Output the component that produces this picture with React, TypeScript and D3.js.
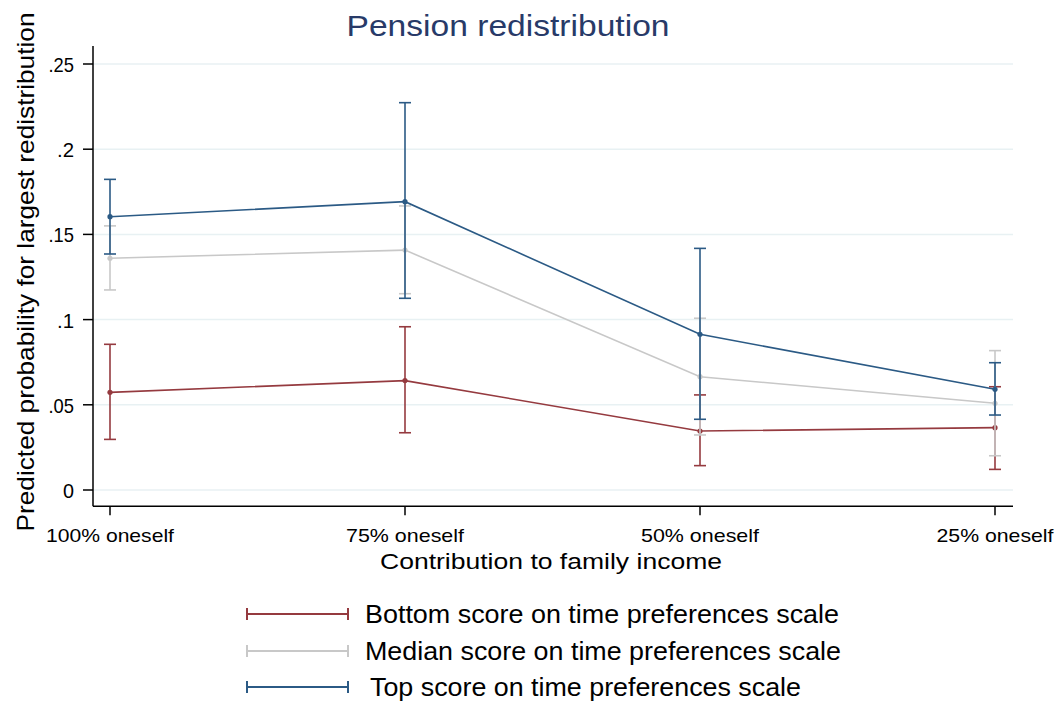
import React from "react";
import * as d3 from "d3";

const categories = ["100% oneself", "75% oneself", "50% oneself", "25% oneself"];
const yTicks = [0, 0.05, 0.1, 0.15, 0.2, 0.25];
const yTickLabels = ["0", ".05", ".1", ".15", ".2", ".25"];

const bottomEst = [0.0573, 0.0642, 0.0346, 0.0366];
const bottomLo = [0.0297, 0.0336, 0.0143, 0.0121];
const bottomHi = [0.0855, 0.0958, 0.0558, 0.0606];

const medianEst = [0.136, 0.1408, 0.0665, 0.0509];
const medianLo = [0.1174, 0.1152, 0.0323, 0.0201];
const medianHi = [0.155, 0.1667, 0.1008, 0.0818];

const topEst = [0.1604, 0.1692, 0.0914, 0.0591];
const topLo = [0.1385, 0.1125, 0.0415, 0.044];
const topHi = [0.1823, 0.2273, 0.1418, 0.0747];

const seriesNames = [
  "Bottom score on time preferences scale",
  "Median score on time preferences scale",
  "Top score on time preferences scale",
];

const colors = ["#953a3f", "#c8c8c8", "#2b5a85"];

export default function App() {
  const W = 1057, H = 704;
  const x = d3.scalePoint<string>().domain(categories).range([110, 995]);
  const y = d3.scaleLinear().domain([0, 0.25]).range([490, 64]);
  const plotLeft = 93, plotRight = 1013;
  const axisBottom = y(-0.0095);
  const axisTop = y(0.2605);
  const font = "'Liberation Sans', Arial, sans-serif";

  const series = [
    { est: bottomEst, lo: bottomLo, hi: bottomHi },
    { est: medianEst, lo: medianLo, hi: medianHi },
    { est: topEst, lo: topLo, hi: topHi },
  ];
  const line = d3
    .line<number>()
    .x((_, i) => x(categories[i]) as number)
    .y((d) => y(d));
  const capW = 6;
  const tickLabelW = [128, 118, 118, 117];
  const legendW = [474, 476, 431];
  const legendX = [365, 365, 370];
  const legendY = [614, 651, 687];

  return (
    <svg width={W} height={H} style={{ display: "block", position: "absolute", left: 0, top: 0, background: "#fff" }}>
      <rect x={0} y={0} width={W} height={H} fill="#fff" />
      {yTicks.map((t, i) => (
        <line key={"g" + i} x1={plotLeft} x2={plotRight} y1={y(t)} y2={y(t)} stroke="#e8f1f3" strokeWidth={1.5} />
      ))}
      {series.map((s, si) => (
        <g key={"s" + si} stroke={colors[si]} fill="none">
          {s.est.map((_, i) => {
            const cx = x(categories[i]) as number;
            return (
              <g key={i} strokeWidth={1.6}>
                <line x1={cx} x2={cx} y1={y(s.lo[i])} y2={y(s.hi[i])} />
                <line x1={cx - capW} x2={cx + capW} y1={y(s.lo[i])} y2={y(s.lo[i])} />
                <line x1={cx - capW} x2={cx + capW} y1={y(s.hi[i])} y2={y(s.hi[i])} />
              </g>
            );
          })}
          <path d={line(s.est) || ""} strokeWidth={1.6} />
          {s.est.map((v, i) => (
            <circle key={"p" + i} cx={x(categories[i]) as number} cy={y(v)} r={2.6} fill={colors[si]} stroke="none" />
          ))}
        </g>
      ))}
      <line x1={plotLeft} x2={plotLeft} y1={axisTop} y2={axisBottom} stroke="#000" strokeWidth={1.5} />
      <line x1={plotLeft} x2={plotRight} y1={axisBottom} y2={axisBottom} stroke="#000" strokeWidth={1.5} />
      {yTicks.map((t, i) => (
        <g key={"yt" + i}>
          <line x1={plotLeft - 10} x2={plotLeft} y1={y(t)} y2={y(t)} stroke="#000" strokeWidth={1.5} />
          <text x={74} y={y(t) + 8} textAnchor="end" fontFamily={font} fontSize={21} fill="#000"
            textLength={yTickLabels[i].length === 1 ? 11 : yTickLabels[i].length * 8.5} lengthAdjust="spacingAndGlyphs">
            {yTickLabels[i]}
          </text>
        </g>
      ))}
      {categories.map((c, i) => (
        <g key={"xt" + i}>
          <line x1={x(c) as number} x2={x(c) as number} y1={axisBottom} y2={axisBottom + 9} stroke="#000" strokeWidth={1.5} />
          <text x={x(c) as number} y={542} textAnchor="middle" fontFamily={font} fontSize={19} fill="#000"
            textLength={tickLabelW[i]} lengthAdjust="spacingAndGlyphs">
            {c}
          </text>
        </g>
      ))}
      <text x={551} y={569} textAnchor="middle" fontFamily={font} fontSize={22} fill="#000" textLength={342} lengthAdjust="spacingAndGlyphs">
        Contribution to family income
      </text>
      <text transform={`translate(34, 272) rotate(-90)`} textAnchor="middle" fontFamily={font} fontSize={24} fill="#000"
        textLength={519} lengthAdjust="spacingAndGlyphs">
        Predicted probability for largest redistribution
      </text>
      <text x={508} y={36} textAnchor="middle" fontFamily={font} fontSize={30} fill="#283a68" textLength={323} lengthAdjust="spacingAndGlyphs">
        Pension redistribution
      </text>
      {seriesNames.map((n, i) => {
        const ly = legendY[i];
        return (
          <g key={"l" + i}>
            <line x1={247} x2={348} y1={ly} y2={ly} stroke={colors[i]} strokeWidth={2} />
            <line x1={348} x2={348} y1={ly - 6} y2={ly + 6} stroke={colors[i]} strokeWidth={2} />
            <line x1={247} x2={247} y1={ly - 6} y2={ly + 6} stroke={colors[i]} strokeWidth={2} />
            <text x={legendX[i]} y={ly + 9} fontFamily={font} fontSize={26} fill="#000"
              textLength={legendW[i]} lengthAdjust="spacingAndGlyphs">
              {n}
            </text>
          </g>
        );
      })}
    </svg>
  );
}
